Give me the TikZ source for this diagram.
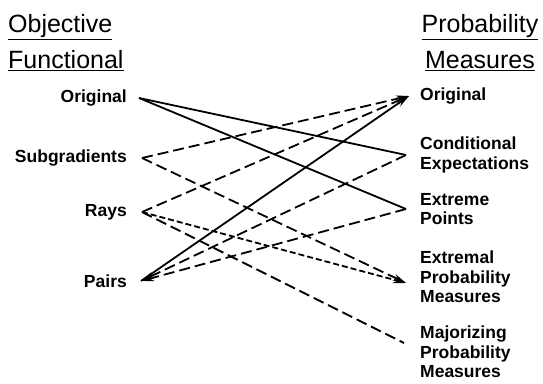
\documentclass[tikz,border=0pt]{standalone}
\usepackage{fontspec}
\setmainfont{Liberation Sans}
\usetikzlibrary{arrows.meta,positioning}

\begin{document}
\begin{tikzpicture}[x=1pt, y=-1pt,
  item/.style={inner sep=0pt, align=left, font=\bfseries\fontsize{17.5}{19.5}\selectfont},
  head/.style={inner sep=0pt, font=\fontsize{25}{36}\selectfont},
  link/.style={line width=1.8pt},
  longdash/.style={link, dash pattern=on 11pt off 5pt},
  shortdash/.style={link, dash pattern=on 6pt off 3pt},
  tip/.style={-{Stealth[length=13pt, width=7pt]}}
]
\useasboundingbox (0,0) rectangle (543,383);

% end points of the links
\coordinate (lorig) at (139,98);
\coordinate (lsub) at (142,158);
\coordinate (lray) at (142,212);
\coordinate (lpair) at (141,281);
\coordinate (rorig) at (409,96);
\coordinate (rcond) at (406,155);
\coordinate (rext) at (406,209);
\coordinate (rexm) at (406,283);
\coordinate (rmaj) at (404,343);

% column headings
\node[head, anchor=north west, align=left] (objhead) at (8,14) {\underline{Objective}\\\underline{Functional}};
\node[head, anchor=north, align=center] (probhead) at (480,14) {\underline{Probability}\\\underline{Measures}};

% left column
\node[item, left=12pt of lorig] (orig) {Original};
\node[item, left=15pt of lsub] (sub) {Subgradients};
\node[item, left=15pt of lray] (rays) {Rays};
\node[item, left=14pt of lpair] (pairs) {Pairs};

% right column
\node[item, right=11pt of rorig] (porig) {Original};
\node[item, right=14pt of rcond] (cond) {Conditional\\Expectations};
\node[item, right=14pt of rext] (extreme) {Extreme\\Points};
\node[item, right=14pt of rexm, yshift=6pt] (extremal) {Extremal\\Probability\\Measures};
\node[item, right=16pt of rmaj, yshift=-9pt] (major) {Majorizing\\Probability\\Measures};

% links
\draw[link] (lorig) -- (rcond);
\draw[link] (lorig) -- (rext);
\draw[link, tip] (lpair) -- (rorig);
\draw[longdash, tip] (lsub) -- (rorig);
\draw[longdash, tip] (lray) -- (rorig);
\draw[longdash, tip] (lsub) -- (rexm);
\draw[shortdash, tip] (lray) -- (rexm);
\draw[longdash, tip] (rcond) -- (lpair);
\draw[longdash, tip] (rext) -- (lpair);
\draw[longdash] (lray) -- (rmaj);
\end{tikzpicture}
\end{document}
